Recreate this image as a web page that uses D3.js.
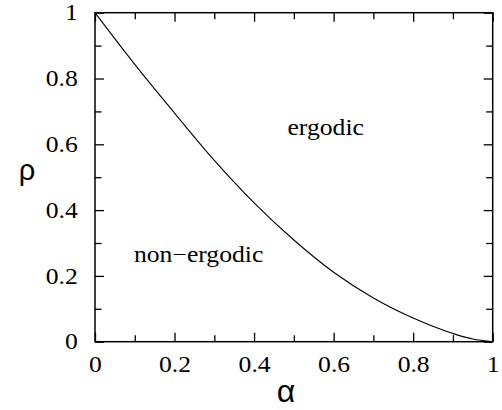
<!DOCTYPE html>
<html>
<head>
<meta charset="utf-8">
<script src="https://cdn.jsdelivr.net/npm/d3@7"></script>
<style>
  html, body { margin: 0; padding: 0; background: #fff; }
  svg { display: block; }
  .serif { font-family: "Liberation Serif", "Times New Roman", Times, serif; }
  .sans { font-family: "Liberation Sans", Arial, Helvetica, sans-serif; }
</style>
</head>
<body>
<svg id="chart" width="502" height="410"></svg>
<script>
// ---- data ----
const alpha = [0, 0.1, 0.2, 0.3, 0.4, 0.5, 0.6, 0.7, 0.8, 0.9, 0.95, 1];
const rho   = [1, 0.843, 0.695, 0.551, 0.422, 0.309, 0.211, 0.133, 0.072, 0.025, 0.008, 0];
const majorTicks = [0, 0.2, 0.4, 0.6, 0.8, 1];
const minorTicks = [0.1, 0.3, 0.5, 0.7, 0.9];
const regionLabels = ["ergodic", "non\u2212ergodic"];
const regionPos = [[0.484, 0.627], [0.098, 0.241]]; // [alpha, rho] of label left baseline
const xTitle = "\u03b1";
const yTitle = "\u03c1";

// ---- layout ----
const svg = d3.select("#chart");
const L = 95, R = 492.7, T = 12.7, B = 341.7;
const x = d3.scaleLinear().domain([0, 1]).range([L, R]);
const y = d3.scaleLinear().domain([0, 1]).range([B, T]);
const fmt = d3.format("~g");
const FS = 22.5, SX = 1.14;

function styleAxis(g, labels, side) {
  g.attr("font-family", null).attr("font-size", null);
  g.select(".domain").remove();
  g.selectAll(".tick line").attr("stroke", "#000").attr("stroke-width", 1.3);
  const t = g.selectAll(".tick text");
  if (!labels) { t.remove(); return; }
  t.attr("class", "serif").attr("font-size", FS).attr("fill", "#000");
  if (side === "bottom") {
    t.attr("transform", `scale(${SX},1)`);
  } else if (side === "left") {
    const px = -17.3;
    t.attr("x", px / SX).attr("transform", `scale(${SX},1)`);
  }
}

// bottom
svg.append("g").attr("transform", `translate(0,${B})`)
  .call(d3.axisBottom(x).tickValues(majorTicks).tickSize(-9).tickPadding(14).tickFormat(fmt))
  .call(g => styleAxis(g, true, "bottom"));
svg.append("g").attr("transform", `translate(0,${B})`)
  .call(d3.axisBottom(x).tickValues(minorTicks).tickSize(-6.5))
  .call(g => styleAxis(g, false));
// top
svg.append("g").attr("transform", `translate(0,${T})`)
  .call(d3.axisTop(x).tickValues(majorTicks).tickSize(-9))
  .call(g => styleAxis(g, false));
svg.append("g").attr("transform", `translate(0,${T})`)
  .call(d3.axisTop(x).tickValues(minorTicks).tickSize(-6.5))
  .call(g => styleAxis(g, false));
// left
svg.append("g").attr("transform", `translate(${L},0)`)
  .call(d3.axisLeft(y).tickValues(majorTicks).tickSize(-9).tickFormat(fmt))
  .call(g => styleAxis(g, true, "left"));
svg.append("g").attr("transform", `translate(${L},0)`)
  .call(d3.axisLeft(y).tickValues(minorTicks).tickSize(-6.5))
  .call(g => styleAxis(g, false));
// right
svg.append("g").attr("transform", `translate(${R},0)`)
  .call(d3.axisRight(y).tickValues(majorTicks).tickSize(-9))
  .call(g => styleAxis(g, false));
svg.append("g").attr("transform", `translate(${R},0)`)
  .call(d3.axisRight(y).tickValues(minorTicks).tickSize(-6.5))
  .call(g => styleAxis(g, false));

// frame
svg.append("rect")
  .attr("x", L).attr("y", T).attr("width", R - L).attr("height", B - T)
  .attr("fill", "none").attr("stroke", "#000").attr("stroke-width", 1.5);

// curve
const pts = alpha.map((a, i) => [a, rho[i]]);
svg.append("path")
  .datum(pts)
  .attr("fill", "none")
  .attr("stroke", "#000")
  .attr("stroke-width", 1.1)
  .attr("d", d3.line().x(d => x(d[0])).y(d => y(d[1])).curve(d3.curveMonotoneX));

// region labels
svg.selectAll("g.region")
  .data(regionLabels)
  .enter().append("g")
  .attr("class", "region")
  .attr("transform", (d, i) => `translate(${x(regionPos[i][0])},${y(regionPos[i][1])}) scale(${SX},1)`)
  .append("text")
  .attr("class", "serif")
  .attr("font-size", FS)
  .attr("fill", "#000")
  .text(d => d);

// axis titles
svg.append("text")
  .attr("class", "sans")
  .attr("x", 286).attr("y", 402)
  .attr("text-anchor", "middle")
  .attr("font-size", 32)
  .attr("fill", "#000")
  .text(xTitle);
svg.append("text")
  .attr("class", "sans")
  .attr("x", 27).attr("y", 180)
  .attr("text-anchor", "middle")
  .attr("font-size", 29)
  .attr("fill", "#000")
  .text(yTitle);
</script>
</body>
</html>
